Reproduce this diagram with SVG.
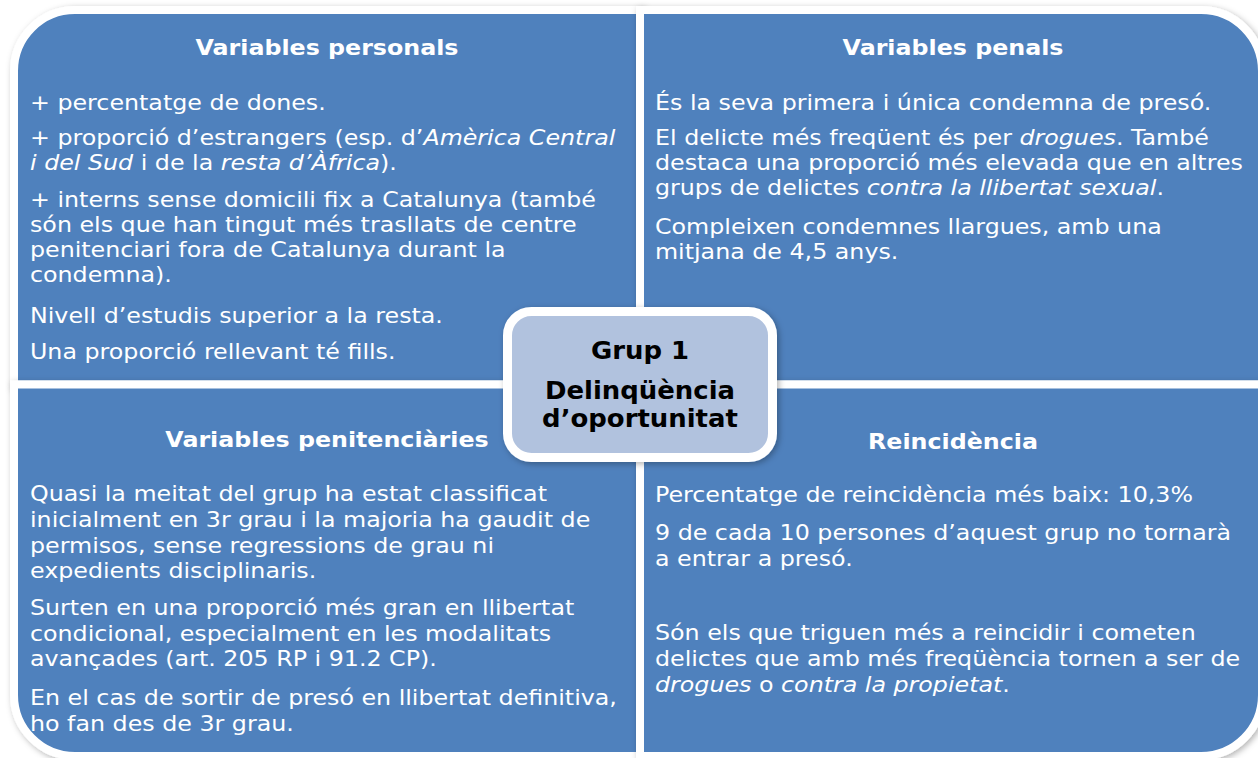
<svg xmlns="http://www.w3.org/2000/svg" width="1258" height="758" viewBox="0 0 1258 758">
<defs>
<filter id="sh" x="-10%" y="-10%" width="120%" height="120%">
<feDropShadow dx="2" dy="2" stdDeviation="3" flood-color="#000" flood-opacity="0.3"/>
</filter>
<style>
.q{fill:#4F81BD;stroke:#fff;stroke-width:8;filter:url(#sh)}
.c{fill:#B1C2DE;stroke:#fff;stroke-width:9;filter:url(#sh)}
text{font-family:"DejaVu Sans",Verdana,sans-serif;fill:#fff;font-size:22px}
.t{font-weight:bold;text-anchor:middle}
.ct{font-weight:bold;text-anchor:middle;fill:#000;font-size:24px}
.i{font-style:italic}
</style>
</defs>
<rect width="1258" height="758" fill="#fff"/>
<g id="q-personals">
<path class="q" d="M14,384.5 L14,71 A61,61 0 0 1 75,10 L640,10 L640,384.5 Z"/>
<g transform="scale(1.08,1)">
<text class="t" x="302.78" y="55">Variables personals</text>
<text x="27.78" y="110">+ percentatge de dones.</text>
<text x="27.78" y="145">+ proporció d’estrangers (esp. d’<tspan class="i">Amèrica Central</tspan></text>
<text x="27.78" y="170"><tspan class="i">i del Sud</tspan> i de la <tspan class="i">resta d’Àfrica</tspan>).</text>
<text x="27.78" y="207">+ interns sense domicili fix a Catalunya (també</text>
<text x="27.78" y="232">són els que han tingut més trasllats de centre</text>
<text x="27.78" y="257">penitenciari fora de Catalunya durant la</text>
<text x="27.78" y="282">condemna).</text>
<text x="27.78" y="323">Nivell d’estudis superior a la resta.</text>
<text x="27.78" y="359">Una proporció rellevant té fills.</text>
</g>
</g>
<g id="q-penals">
<path class="q" d="M640,10 L1201,10 A61,61 0 0 1 1262,71 L1262,384.5 L640,384.5 Z"/>
<g transform="scale(1.08,1)">
<text class="t" x="882.41" y="55">Variables penals</text>
<text x="606.48" y="110">És la seva primera i única condemna de presó.</text>
<text x="606.48" y="145">El delicte més freqüent és per <tspan class="i">drogues</tspan>. També</text>
<text x="606.48" y="170">destaca una proporció més elevada que en altres</text>
<text x="606.48" y="195">grups de delictes <tspan class="i">contra la llibertat sexual</tspan>.</text>
<text x="606.48" y="234">Compleixen condemnes llargues, amb una</text>
<text x="606.48" y="259">mitjana de 4,5 anys.</text>
</g>
</g>
<g id="q-penitenciaries">
<path class="q" d="M14,384.5 L640,384.5 L640,756 L75,756 A61,61 0 0 1 14,695 Z"/>
<g transform="scale(1.08,1)">
<text class="t" x="302.78" y="447">Variables penitenciàries</text>
<text x="27.78" y="501">Quasi la meitat del grup ha estat classificat</text>
<text x="27.78" y="527">inicialment en 3r grau i la majoria ha gaudit de</text>
<text x="27.78" y="553">permisos, sense regressions de grau ni</text>
<text x="27.78" y="578">expedients disciplinaris.</text>
<text x="27.78" y="615">Surten en una proporció més gran en llibertat</text>
<text x="27.78" y="641">condicional, especialment en les modalitats</text>
<text x="27.78" y="666">avançades (art. 205 RP i 91.2 CP).</text>
<text x="27.78" y="705">En el cas de sortir de presó en llibertat definitiva,</text>
<text x="27.78" y="731">ho fan des de 3r grau.</text>
</g>
</g>
<g id="q-reincidencia">
<path class="q" d="M640,384.5 L1262,384.5 L1262,695 A61,61 0 0 1 1201,756 L640,756 Z"/>
<g transform="scale(1.08,1)">
<text class="t" x="882.41" y="449">Reincidència</text>
<text x="606.48" y="502">Percentatge de reincidència més baix: 10,3%</text>
<text x="606.48" y="540">9 de cada 10 persones d’aquest grup no tornarà</text>
<text x="606.48" y="566">a entrar a presó.</text>
<text x="606.48" y="640">Són els que triguen més a reincidir i cometen</text>
<text x="606.48" y="666">delictes que amb més freqüència tornen a ser de</text>
<text x="606.48" y="692"><tspan class="i">drogues</tspan> o <tspan class="i">contra la propietat</tspan>.</text>
</g>
</g>
<g id="center">
<rect class="c" x="507.5" y="311.5" width="265" height="146" rx="24"/>
<g transform="scale(1.08,1)">
<text class="ct" x="592.59" y="359">Grup 1</text>
<text class="ct" x="592.59" y="399">Delinqüència</text>
<text class="ct" x="592.59" y="427">d’oportunitat</text>
</g>
</g>
<g id="connectors"/>
</svg>
